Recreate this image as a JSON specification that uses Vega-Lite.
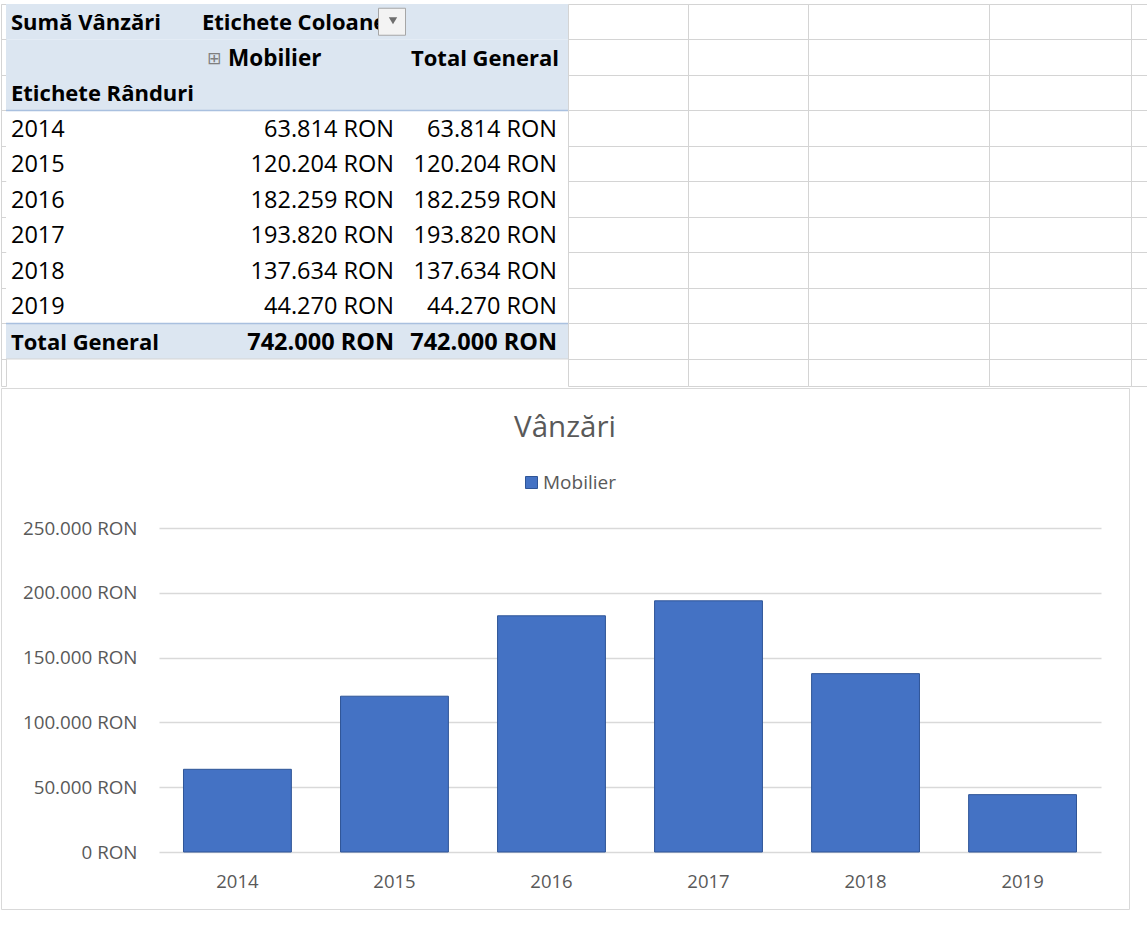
{
  "$schema": "https://vega.github.io/schema/vega-lite/v6.json",
  "background": "white",
  "padding": {"top": 3, "left": 0, "right": 0, "bottom": 0},
  "columns": 1,
  "spacing": 0,
  "resolve": {"scale": {"color": "independent"}, "legend": {"color": "independent"}},
  "config": {"view": {"stroke": null}, "font": "Open Sans", "text": {"font": "Open Sans", "fontSize": 23.5, "color": "#000000", "dy": 1.5}},
  "datasets": {
    "rows": [
      {"row": 1, "section": "header"}, {"row": 2, "section": "header"}, {"row": 3, "section": "header"},
      {"row": 4, "section": "body"}, {"row": 5, "section": "body"}, {"row": 6, "section": "body"},
      {"row": 7, "section": "body"}, {"row": 8, "section": "body"}, {"row": 9, "section": "body"},
      {"row": 10, "section": "total"}
    ],
    "cells": [
      {"col": "A", "row": 1, "kind": "head", "text": "Sumă Vânzări"},
      {"col": "B", "row": 1, "kind": "head", "text": "Etichete Coloane"},
      {"col": "B", "row": 2, "kind": "item", "text": "Mobilier"},
      {"col": "C", "row": 2, "kind": "grandhead", "text": "Total General"},
      {"col": "A", "row": 3, "kind": "head", "text": "Etichete Rânduri"},
      {"col": "A", "row": 4, "kind": "label", "text": "2014"},
      {"col": "B", "row": 4, "kind": "value", "text": "63.814 RON"},
      {"col": "C", "row": 4, "kind": "value", "text": "63.814 RON"},
      {"col": "A", "row": 5, "kind": "label", "text": "2015"},
      {"col": "B", "row": 5, "kind": "value", "text": "120.204 RON"},
      {"col": "C", "row": 5, "kind": "value", "text": "120.204 RON"},
      {"col": "A", "row": 6, "kind": "label", "text": "2016"},
      {"col": "B", "row": 6, "kind": "value", "text": "182.259 RON"},
      {"col": "C", "row": 6, "kind": "value", "text": "182.259 RON"},
      {"col": "A", "row": 7, "kind": "label", "text": "2017"},
      {"col": "B", "row": 7, "kind": "value", "text": "193.820 RON"},
      {"col": "C", "row": 7, "kind": "value", "text": "193.820 RON"},
      {"col": "A", "row": 8, "kind": "label", "text": "2018"},
      {"col": "B", "row": 8, "kind": "value", "text": "137.634 RON"},
      {"col": "C", "row": 8, "kind": "value", "text": "137.634 RON"},
      {"col": "A", "row": 9, "kind": "label", "text": "2019"},
      {"col": "B", "row": 9, "kind": "value", "text": "44.270 RON"},
      {"col": "C", "row": 9, "kind": "value", "text": "44.270 RON"},
      {"col": "A", "row": 10, "kind": "totallabel", "text": "Total General"},
      {"col": "B", "row": 10, "kind": "total", "text": "742.000 RON"},
      {"col": "C", "row": 10, "kind": "total", "text": "742.000 RON"}
    ],
    "sales": [
      {"year": "2014", "series": "Mobilier", "sales": 63814},
      {"year": "2015", "series": "Mobilier", "sales": 120204},
      {"year": "2016", "series": "Mobilier", "sales": 182259},
      {"year": "2017", "series": "Mobilier", "sales": 193820},
      {"year": "2018", "series": "Mobilier", "sales": 137634},
      {"year": "2019", "series": "Mobilier", "sales": 44270}
    ]
  },
  "concat": [
    {
      "spacing": 0,
      "bounds": "flush",
      "hconcat": [
        {
          "width": 5, "height": 382, "view": {"stroke": "#d4d4d4"},
          "data": {"name": "cells"}, "transform": [{"filter": "datum.col === 'Z'"}],
          "mark": "text",
          "encoding": {
            "y": {"field": "row", "type": "ordinal", "scale": {"type": "band", "domain": [1,2,3,4,5,6,7,8,9,10], "paddingInner": 0, "paddingOuter": 0.3803, "align": 0}, "axis": {"grid": true, "tickBand": "extent", "labels": false, "ticks": false, "domain": false, "title": null, "gridColor": "#d4d4d4", "gridWidth": 1}},
            "text": {"field": "text"}
          }
        },
        {
          "width": 190, "height": 382,
          "layer": [
            {
              "data": {"name": "rows"},
              "mark": {"type": "rect"},
              "encoding": {
                "y": {"field": "row", "type": "ordinal", "scale": {"type": "band", "domain": [1,2,3,4,5,6,7,8,9,10], "paddingInner": 0, "paddingOuter": 0.3803, "align": 0}, "axis": null},
                "fill": {"condition": {"test": "datum.section === 'body'", "value": "#ffffff"}, "value": "#dce6f1"}
              }
            },
            {
              "data": {"name": "rows"}, "transform": [{"filter": "datum.row === 4 || datum.row === 10"}],
              "mark": {"type": "rule", "stroke": "#a9c0df", "strokeWidth": 1.5},
              "encoding": {"y": {"field": "row", "type": "ordinal", "bandPosition": 0}}
            },
            {
              "data": {"name": "rows"}, "transform": [{"filter": "datum.row === 10"}],
              "mark": {"type": "rule", "stroke": "#d4d4d4", "strokeWidth": 1},
              "encoding": {"y": {"field": "row", "type": "ordinal", "bandPosition": 1}}
            },
            {
              "data": {"name": "cells"}, "transform": [{"filter": "datum.col === 'A' && (datum.kind === 'head' || datum.kind === 'totallabel')"}],
              "mark": {"type": "text", "align": "left", "dx": 5, "fontWeight": "bold", "fontSize": 22},
              "encoding": {
                "x": {"field": "col", "type": "nominal", "scale": {"type": "band", "paddingInner": 0, "paddingOuter": 0}, "axis": null, "bandPosition": 0},
                "y": {"field": "row", "type": "ordinal"},
                "text": {"field": "text"}
              }
            },
            {
              "data": {"name": "cells"}, "transform": [{"filter": "datum.col === 'A' && datum.kind === 'label'"}],
              "mark": {"type": "text", "align": "left", "dx": 5},
              "encoding": {
                "x": {"field": "col", "type": "nominal", "axis": null, "bandPosition": 0},
                "y": {"field": "row", "type": "ordinal"},
                "text": {"field": "text"}
              }
            }
          ]
        },
        {
          "width": 210, "height": 382,
          "layer": [
            {
              "data": {"name": "rows"},
              "mark": {"type": "rect"},
              "encoding": {
                "y": {"field": "row", "type": "ordinal", "scale": {"type": "band", "domain": [1,2,3,4,5,6,7,8,9,10], "paddingInner": 0, "paddingOuter": 0.3803, "align": 0}, "axis": null},
                "fill": {"condition": {"test": "datum.section === 'body'", "value": "#ffffff"}, "value": "#dce6f1"}
              }
            },
            {
              "data": {"name": "rows"}, "transform": [{"filter": "datum.row === 4 || datum.row === 10"}],
              "mark": {"type": "rule", "stroke": "#a9c0df", "strokeWidth": 1.5},
              "encoding": {"y": {"field": "row", "type": "ordinal", "bandPosition": 0}}
            },
            {
              "data": {"name": "rows"}, "transform": [{"filter": "datum.row === 10"}],
              "mark": {"type": "rule", "stroke": "#d4d4d4", "strokeWidth": 1},
              "encoding": {"y": {"field": "row", "type": "ordinal", "bandPosition": 1}}
            },
            {
              "data": {"name": "cells"}, "transform": [{"filter": "datum.col === 'B' && datum.kind === 'head'"}],
              "mark": {"type": "text", "align": "left", "dx": 6, "fontWeight": "bold", "fontSize": 22},
              "encoding": {
                "x": {"field": "col", "type": "nominal", "scale": {"type": "band", "paddingInner": 0, "paddingOuter": 0}, "axis": null, "bandPosition": 0},
                "y": {"field": "row", "type": "ordinal"},
                "text": {"field": "text"}
              }
            },
            {
              "data": {"name": "cells"}, "transform": [{"filter": "datum.col === 'B' && datum.kind === 'item'"}],
              "mark": {"type": "text", "align": "left", "dx": 32, "fontWeight": "bold", "fontSize": 22.5},
              "encoding": {
                "x": {"field": "col", "type": "nominal", "axis": null, "bandPosition": 0},
                "y": {"field": "row", "type": "ordinal"},
                "text": {"field": "text"}
              }
            },
            {
              "data": {"name": "cells"}, "transform": [{"filter": "datum.col === 'B' && datum.kind === 'item'"}],
              "mark": {"type": "text", "align": "center", "dx": 18, "font": "DejaVu Sans", "fontSize": 17, "color": "#7f7f7f"},
              "encoding": {
                "x": {"field": "col", "type": "nominal", "axis": null, "bandPosition": 0},
                "y": {"field": "row", "type": "ordinal"},
                "text": {"value": "⊞"}
              }
            },
            {
              "data": {"name": "cells"}, "transform": [{"filter": "datum.col === 'B' && datum.kind === 'value'"}],
              "mark": {"type": "text", "align": "right", "dx": -12},
              "encoding": {
                "x": {"field": "col", "type": "nominal", "axis": null, "bandPosition": 1},
                "y": {"field": "row", "type": "ordinal"},
                "text": {"field": "text"}
              }
            },
            {
              "data": {"name": "cells"}, "transform": [{"filter": "datum.col === 'B' && datum.kind === 'total'"}],
              "mark": {"type": "text", "align": "right", "dx": -12, "fontWeight": "bold"},
              "encoding": {
                "x": {"field": "col", "type": "nominal", "axis": null, "bandPosition": 1},
                "y": {"field": "row", "type": "ordinal"},
                "text": {"field": "text"}
              }
            },
            {
              "data": {"name": "cells"}, "transform": [{"filter": "datum.col === 'B' && datum.kind === 'head'"}],
              "mark": {"type": "point", "shape": "square", "size": 729, "filled": true, "fill": "#f3f3f3", "stroke": "#a6a6a6", "strokeWidth": 1, "opacity": 1, "xOffset": -14},
              "encoding": {
                "x": {"field": "col", "type": "nominal", "axis": null, "bandPosition": 1},
                "y": {"field": "row", "type": "ordinal"}
              }
            },
            {
              "data": {"name": "cells"}, "transform": [{"filter": "datum.col === 'B' && datum.kind === 'head'"}],
              "mark": {"type": "point", "shape": "triangle-down", "size": 70, "filled": true, "fill": "#6e6e6e", "opacity": 1, "xOffset": -13, "yOffset": -1},
              "encoding": {
                "x": {"field": "col", "type": "nominal", "axis": null, "bandPosition": 1},
                "y": {"field": "row", "type": "ordinal"}
              }
            }
          ]
        },
        {
          "width": 162, "height": 382,
          "layer": [
            {
              "data": {"name": "rows"},
              "mark": {"type": "rect"},
              "encoding": {
                "y": {"field": "row", "type": "ordinal", "scale": {"type": "band", "domain": [1,2,3,4,5,6,7,8,9,10], "paddingInner": 0, "paddingOuter": 0.3803, "align": 0}, "axis": null},
                "fill": {"condition": {"test": "datum.section === 'body'", "value": "#ffffff"}, "value": "#dce6f1"}
              }
            },
            {
              "data": {"name": "rows"}, "transform": [{"filter": "datum.row === 4 || datum.row === 10"}],
              "mark": {"type": "rule", "stroke": "#a9c0df", "strokeWidth": 1.5},
              "encoding": {"y": {"field": "row", "type": "ordinal", "bandPosition": 0}}
            },
            {
              "data": {"name": "rows"}, "transform": [{"filter": "datum.row === 10"}],
              "mark": {"type": "rule", "stroke": "#d4d4d4", "strokeWidth": 1},
              "encoding": {"y": {"field": "row", "type": "ordinal", "bandPosition": 1}}
            },
            {
              "data": {"name": "cells"}, "transform": [{"filter": "datum.col === 'C' && datum.kind === 'grandhead'"}],
              "mark": {"type": "text", "align": "right", "dx": -9, "fontWeight": "bold", "fontSize": 22},
              "encoding": {
                "x": {"field": "col", "type": "nominal", "scale": {"type": "band", "paddingInner": 0, "paddingOuter": 0}, "axis": null, "bandPosition": 1},
                "y": {"field": "row", "type": "ordinal"},
                "text": {"field": "text"}
              }
            },
            {
              "data": {"name": "cells"}, "transform": [{"filter": "datum.col === 'C' && datum.kind === 'total'"}],
              "mark": {"type": "text", "align": "right", "dx": -11, "fontWeight": "bold"},
              "encoding": {
                "x": {"field": "col", "type": "nominal", "axis": null, "bandPosition": 1},
                "y": {"field": "row", "type": "ordinal"},
                "text": {"field": "text"}
              }
            },
            {
              "data": {"name": "cells"}, "transform": [{"filter": "datum.col === 'C' && datum.kind === 'value'"}],
              "mark": {"type": "text", "align": "right", "dx": -11},
              "encoding": {
                "x": {"field": "col", "type": "nominal", "axis": null, "bandPosition": 1},
                "y": {"field": "row", "type": "ordinal"},
                "text": {"field": "text"}
              }
            }
          ]
        },
        {
          "width": 120, "height": 382, "view": {"stroke": "#d4d4d4"},
          "data": {"name": "cells"}, "transform": [{"filter": "datum.col === 'D'"}],
          "mark": "text",
          "encoding": {
            "y": {"field": "row", "type": "ordinal", "scale": {"type": "band", "domain": [1,2,3,4,5,6,7,8,9,10], "paddingInner": 0, "paddingOuter": 0.3803, "align": 0}, "axis": {"grid": true, "tickBand": "extent", "labels": false, "ticks": false, "domain": false, "title": null, "gridColor": "#d4d4d4", "gridWidth": 1}},
            "text": {"field": "text"}
          }
        },
        {
          "width": 120, "height": 382, "view": {"stroke": "#d4d4d4"},
          "data": {"name": "cells"}, "transform": [{"filter": "datum.col === 'E'"}],
          "mark": "text",
          "encoding": {
            "y": {"field": "row", "type": "ordinal", "scale": {"type": "band", "domain": [1,2,3,4,5,6,7,8,9,10], "paddingInner": 0, "paddingOuter": 0.3803, "align": 0}, "axis": {"grid": true, "tickBand": "extent", "labels": false, "ticks": false, "domain": false, "title": null, "gridColor": "#d4d4d4", "gridWidth": 1}},
            "text": {"field": "text"}
          }
        },
        {
          "width": 181, "height": 382, "view": {"stroke": "#d4d4d4"},
          "data": {"name": "cells"}, "transform": [{"filter": "datum.col === 'F'"}],
          "mark": "text",
          "encoding": {
            "y": {"field": "row", "type": "ordinal", "scale": {"type": "band", "domain": [1,2,3,4,5,6,7,8,9,10], "paddingInner": 0, "paddingOuter": 0.3803, "align": 0}, "axis": {"grid": true, "tickBand": "extent", "labels": false, "ticks": false, "domain": false, "title": null, "gridColor": "#d4d4d4", "gridWidth": 1}},
            "text": {"field": "text"}
          }
        },
        {
          "width": 142, "height": 382, "view": {"stroke": "#d4d4d4"},
          "data": {"name": "cells"}, "transform": [{"filter": "datum.col === 'G'"}],
          "mark": "text",
          "encoding": {
            "y": {"field": "row", "type": "ordinal", "scale": {"type": "band", "domain": [1,2,3,4,5,6,7,8,9,10], "paddingInner": 0, "paddingOuter": 0.3803, "align": 0}, "axis": {"grid": true, "tickBand": "extent", "labels": false, "ticks": false, "domain": false, "title": null, "gridColor": "#d4d4d4", "gridWidth": 1}},
            "text": {"field": "text"}
          }
        },
        {
          "width": 17, "height": 382, "view": {"stroke": "#d4d4d4"},
          "data": {"name": "cells"}, "transform": [{"filter": "datum.col === 'H'"}],
          "mark": "text",
          "encoding": {
            "y": {"field": "row", "type": "ordinal", "scale": {"type": "band", "domain": [1,2,3,4,5,6,7,8,9,10], "paddingInner": 0, "paddingOuter": 0.3803, "align": 0}, "axis": {"grid": true, "tickBand": "extent", "labels": false, "ticks": false, "domain": false, "title": null, "gridColor": "#d4d4d4", "gridWidth": 1}},
            "text": {"field": "text"}
          }
        }
      ]
    },
    {
      "width": 1128, "height": 521,
      "view": {"stroke": "#d9d9d9", "fill": "#ffffff"},
      "data": {"name": "sales"},
      "title": {"text": "Vânzări", "font": "Open Sans", "fontSize": 29.5, "fontWeight": "normal", "color": "#595959", "anchor": "middle", "offset": -55},
      "mark": {"type": "bar", "stroke": "#2f5597", "strokeWidth": 1},
      "encoding": {
        "x": {"field": "year", "type": "nominal", "scale": {"range": [158, 1100], "paddingInner": 0.313, "paddingOuter": 0.156},
              "axis": {"title": null, "labelAngle": 0, "domain": false, "ticks": false, "offset": -57, "labelPadding": 20, "labelFont": "Open Sans", "labelFontSize": 18.5, "labelColor": "#595959"}},
        "y": {"field": "sales", "type": "quantitative", "scale": {"domain": [0, 250000], "nice": false, "range": [464, 140]},
              "axis": {"title": null, "values": [0, 50000, 100000, 150000, 200000, 250000], "labelExpr": "replace(format(datum.value, ',.0f'), ',', '.') + ' RON'", "domain": false, "ticks": false, "offset": -158, "labelPadding": 22, "labelFont": "Open Sans", "labelFontSize": 18.8, "labelColor": "#595959", "gridColor": "#d9d9d9", "gridWidth": 1.3}},
        "color": {"field": "series", "type": "nominal", "scale": {"range": ["#4472c4"]},
                  "legend": {"title": null, "orient": "none", "legendX": 521, "legendY": 85, "padding": 0, "symbolType": "square", "symbolSize": 144, "symbolStrokeColor": "#2f5597", "symbolStrokeWidth": 1, "labelFont": "Open Sans", "labelFontSize": 19, "labelColor": "#595959", "labelOffset": 2}}
      }
    }
  ]
}
